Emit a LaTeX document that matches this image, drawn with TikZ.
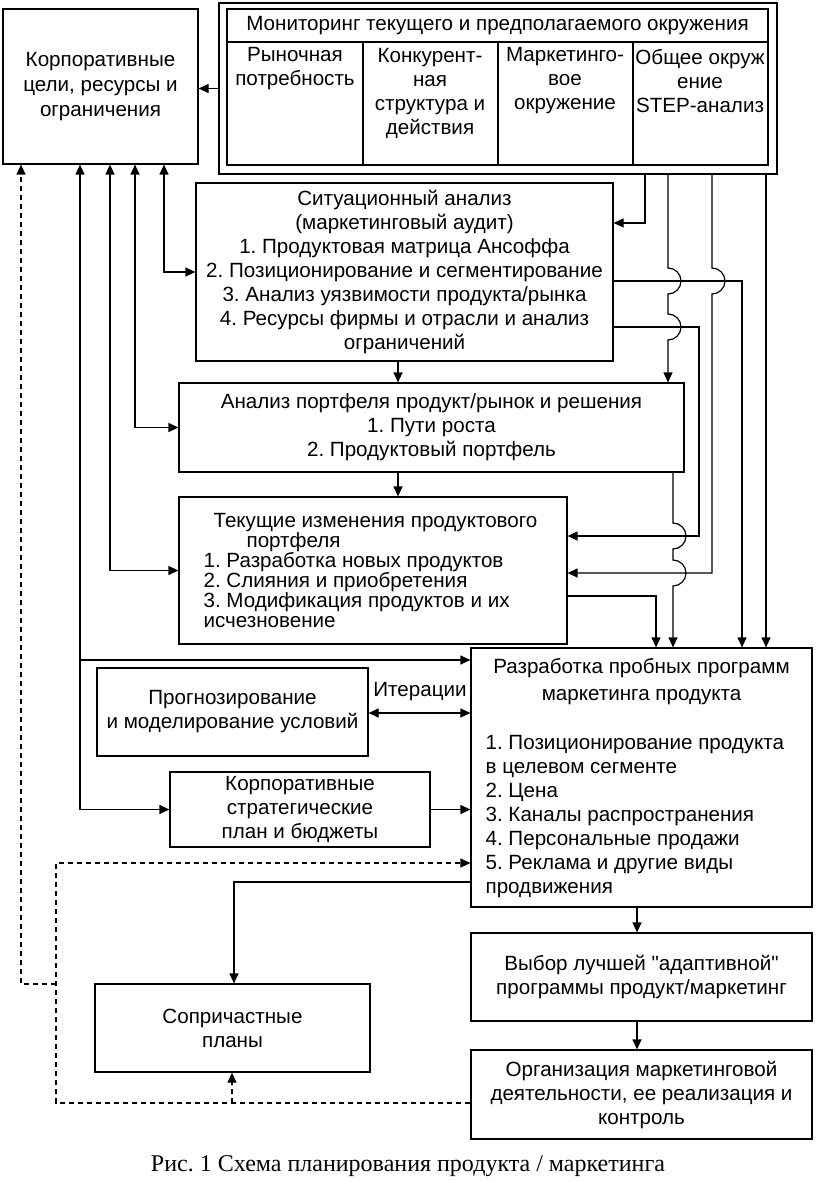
\documentclass[tikz,border=0pt]{standalone}
\usepackage{fontspec}
\setmainfont{Liberation Sans}
\newfontfamily\capfont{Liberation Serif}
\usetikzlibrary{arrows.meta}
\frenchspacing
\tikzset{
  blk/.style 2 args={draw, minimum width=#1, minimum height=#2, inner sep=0pt, align=center},
  arr/.style={-{Triangle[length=5pt,width=4.5pt]}},
  arr2/.style={{Triangle[length=5pt,width=4.5pt]}-{Triangle[length=5pt,width=4.5pt]}},
  fb/.style={dash pattern=on 2.5pt off 2pt, -{Triangle[length=5pt,width=4.5pt]}},
  hopover/.style={insert path={arc[start angle=90, end angle=-90, radius=6.5pt]}}
}
\begin{document}
\begin{tikzpicture}[x=0.5pt, y=-0.5pt, line width=0.6pt, font=\fontsize{10.3}{12}\selectfont]
            \useasboundingbox (0,0) rectangle (816,1182);
            \node[blk={97.5pt}{77.5pt}] (corp) at (100.5,86.5) {Корпоративные\\[0.5pt]цели, ресурсы и\\[0.5pt]ограничения};
            \node[blk={279pt}{85.5pt}] (monout) at (498,88.5) {};
            \node[blk={270.5pt}{78pt}] (monin) at (497.5,87) {};
            \node (monhead) at (497.5,26) {Мониторинг текущего и предполагаемого окружения};
            \draw (monin.west |- 0,42) -- (monin.east |- 0,42);
            \foreach \x in {363,498,633}
                \draw (\x,42) -- (monin.south -| \x,0);
            \node[align=center] (need) at (295,69) {Рыночная\\потребность};
            \node[align=center] (rival) at (430,93.5) {Конкурент-\\ная\\структура и\\действия};
            \node[align=center] (mkenv) at (565,81) {Маркетинго-\\вое\\окружение};
            \node[align=center] (step) at (700,81) {Общее окруж\\ение\\STEP-анализ};
            \node[blk={208.5pt}{89pt}] (sit) at (404.5,272) {Ситуационный анализ\\(маркетинговый аудит)\\1. Продуктовая матрица Ансоффа\\2. Позиционирование и сегментирование\\3. Анализ уязвимости продукта/рынка\\4. Ресурсы фирмы и отрасли и анализ\\ограничений};
            \node[blk={252.5pt}{44.5pt}] (port) at (431.5,427.5) {Анализ портфеля продукт/рынок и решения\\1. Пути роста\\2. Продуктовый портфель};
            \node[blk={194pt}{73.5pt}] (cur) at (373,570.5) {};
            \node[align=left, anchor=west, inner sep=0pt, font=\fontsize{10.3}{10}\selectfont] (curtext) at (203,570.5) {\hspace*{5pt}Текущие изменения продуктового\\\hspace*{21.5pt}портфеля\\1. Разработка новых продуктов\\2. Слияния и приобретения\\3. Модификация продуктов и их\\исчезновение};
            \node[blk={170.5pt}{129.5pt}] (trial) at (641.5,777.5) {};
            \node[align=center] (trialhead) at (641.5,682) {Разработка пробных программ\\[1.5pt]маркетинга продукта};
            \node[align=left, anchor=west, inner sep=0pt] (triallist) at (485,817) {1. Позиционирование продукта\\в целевом сегменте\\2. Цена\\3. Каналы распространения\\4. Персональные продажи\\5. Реклама и другие виды\\продвижения};
            \node[blk={135.5pt}{44pt}] (fore) at (232.5,712) {Прогнозирование\\и моделирование условий};
            \node (iter) at (420,692) {Итерации};
            \node[blk={130pt}{37.5pt}] (strat) at (300,809.5) {Корпоративные\\стратегические\\план и бюджеты};
            \node[blk={170.5pt}{44pt}] (choice) at (641.5,977) {Выбор лучшей \textquotedbl адаптивной\textquotedbl\\программы продукт/маркетинг};
            \node[blk={170.5pt}{44.5pt}] (org) at (641.5,1094.5) {Организация маркетинговой\\деятельности, ее реализация и\\контроль};
            \node[blk={137.5pt}{44pt}] (sopr) at (232.5,1028) {Сопричастные\\планы};
            \node[font=\capfont\fontsize{12}{14}\selectfont] (cap) at (408,1166) {Рис. 1 Схема планирования продукта / маркетинга};
            \draw[arr] (monout.west) -- (monout.west -| corp.east);
            \draw[arr2] (corp.south -| 164,0) |- (sit.west);
            \draw[arr2] (corp.south -| 135,0) |- (port.west);
            \draw[arr2] (corp.south -| 110,0) |- (cur.west);
            \draw[arr2] (corp.south -| 80,0) |- (strat.west);
            \coordinate (tap) at (80,660);
            \draw[arr] (tap) -- (tap -| trial.west);
            \draw[arr] (sit.south -| 398,0) -- (port.north -| 398,0);
            \draw[arr] (port.south -| 398,0) -- (cur.north -| 398,0);
            \draw[arr2] (fore.east |- 0,713) -- (trial.west |- 0,713);
            \draw[arr] (strat.east) -- (strat.east -| trial.west);
            \draw[arr] (trial.west |- 0,882) -| (sopr.north -| 234,0);
            \draw[arr] (trial.south -| 637,0) -- (choice.north -| 637,0);
            \draw[arr] (choice.south -| 637,0) -- (org.north -| 637,0);
            \draw[arr] (monout.south -| 645,0) |- (sit.east |- 0,223);
            \draw[arr] (monout.south -| 668,0) -- (668,268) [hopover] -- (668,314) [hopover] -- (port.north -| 668,0);
            \draw[arr] (monout.south -| 712,0) -- (712,268) [hopover] -- (712,573) -- (cur.east |- 0,573);
            \draw[arr] (monout.south -| 766,0) -- (trial.north -| 766,0);
            \draw[arr] (sit.east |- 0,281) -| (trial.north -| 742,0);
            \draw[arr] (sit.east |- 0,327) -| (699,536) -- (cur.east |- 0,536);
            \draw[arr] (port.south -| 673,0) -- (673,523) [hopover] -- (673,560) [hopover] -- (trial.north -| 673,0);
            \draw[arr] (cur.east |- 0,596) -| (trial.north -| 656,0);
            \coordinate (fbturn) at (56,1103);
            \draw[fb] (org.west |- fbturn) -- (fbturn) |- (trial.west |- 0,863);
            \draw[fb] (sopr.south -| 232,0) ++(0,30) -- (sopr.south -| 232,0);
            \draw[fb] (56,984) -| (corp.south -| 21,0);
        \end{tikzpicture}
\end{document}
